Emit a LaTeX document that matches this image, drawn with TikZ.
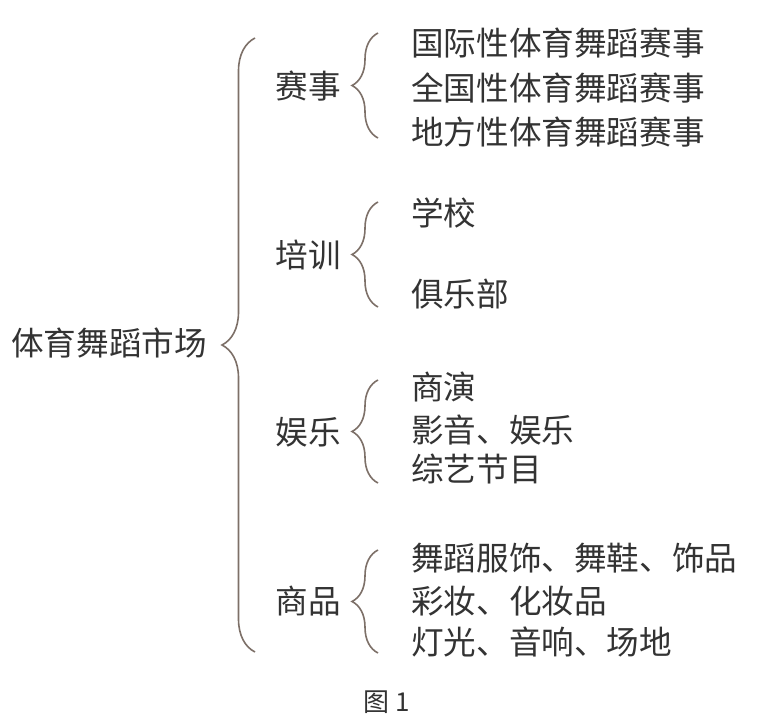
\documentclass[tikz,border=0pt]{standalone}
\usepackage{fontspec}
\newfontfamily\cjk{Noto Sans CJK SC}
\usetikzlibrary{decorations.pathreplacing}
\definecolor{inkgray}{HTML}{333333}
\definecolor{bracegray}{HTML}{7D7068}

\begin{document}
\begin{tikzpicture}[x=1pt, y=-1pt,
        txt/.style={inner sep=0pt, text=inkgray, font=\cjk\fontsize{32.6}{34}\selectfont,
            text height=28.7pt, text depth=3.9pt},
        item/.style={txt, anchor=west},
        cat/.style={txt, anchor=east},
        fence/.style={draw=bracegray, line width=1.6pt, decorate,
            decoration={brace, amplitude=#1}}]
        \useasboundingbox[fill=white] (0,0) rectangle (757,723);
        % root and the four branches
        \node (root) [cat] at (207,343) {体育舞蹈市场};
        \node (saishi) [cat] at (341,86) {赛事};
        \node (peixun) [cat] at (341,255) {培训};
        \node (yule) [cat] at (341,432) {娱乐};
        \node (shangpin) [cat] at (341,601) {商品};
        % leaves
        \node (s1) [item] at (411,43) {国际性体育舞蹈赛事};
        \node (s2) [item] at (411,88) {全国性体育舞蹈赛事};
        \node (s3) [item] at (411,132) {地方性体育舞蹈赛事};
        \node (p1) [item] at (411,213) {学校};
        \node (p2) [item] at (411,294) {俱乐部};
        \node (y1) [item] at (411,387) {商演};
        \node (y2) [item] at (411,430) {影音、娱乐};
        \node (y3) [item] at (411,469) {综艺节目};
        \node (g1) [item] at (411,558) {舞蹈服饰、舞鞋、饰品};
        \node (g2) [item] at (411,601) {彩妆、化妆品};
        \node (g3) [item] at (411,642) {灯光、音响、场地};
        % braces
        \coordinate (rt) at (255,38);  \coordinate (rb) at (255,652);
        \coordinate (st) at (378,33);  \coordinate (sb) at (378,138);
        \coordinate (pt) at (378,202); \coordinate (pb) at (378,307);
        \coordinate (yt) at (378,380); \coordinate (yb) at (378,483);
        \coordinate (gt) at (378,550); \coordinate (gb) at (378,653);
        \draw [fence=33] (rb) -- (rt);
        \draw [fence=26] (sb) -- (st);
        \draw [fence=26] (pb) -- (pt);
        \draw [fence=26] (yb) -- (yt);
        \draw [fence=26] (gb) -- (gt);
        \node (caption) [inner sep=0pt, text=inkgray, font=\cjk\fontsize{26}{28}\selectfont,
            text height=22.9pt, text depth=3.1pt] at (387,702) {图 1};
    \end{tikzpicture}
\end{document}
